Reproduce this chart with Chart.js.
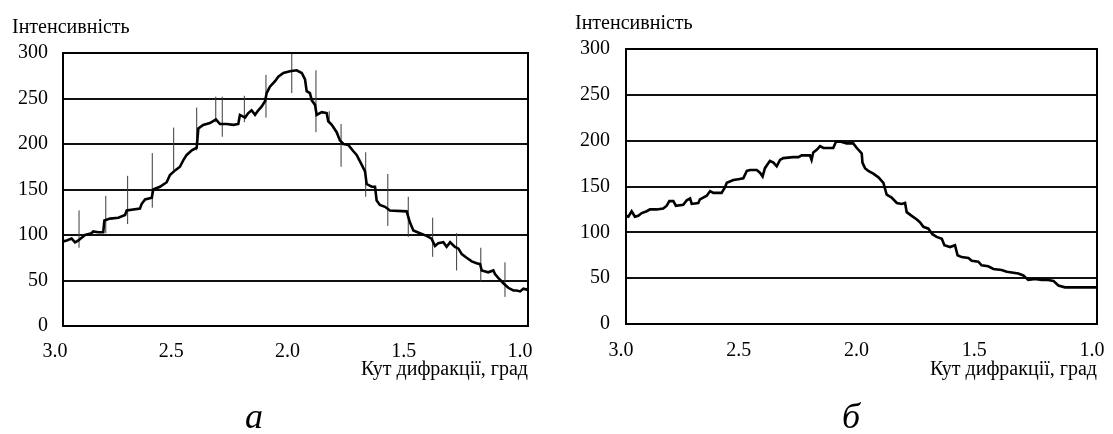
<!DOCTYPE html>
<html>
<head>
<meta charset="utf-8">
<script src="https://cdn.jsdelivr.net/npm/chart.js@4.4.1/dist/chart.umd.min.js"></script>
<style>
  html, body { margin: 0; padding: 0; background: #fff; }
  #wrap { position: relative; width: 1113px; height: 434px; overflow: hidden; background: #fff; }
  .panel { position: absolute; top: 0; height: 434px; }
  .cap { position: absolute; font-family: 'Liberation Serif', serif; font-style: italic; font-size: 36px; line-height: 36px; color: #000; transform: translateX(-50%); }
</style>
</head>
<body>
<div id="wrap">
  <div class="panel" style="left:0;width:556px;"><canvas id="chartA" width="556" height="434"></canvas></div>
  <div class="panel" style="left:556px;width:557px;"><canvas id="chartB" width="557" height="434"></canvas></div>
  <div class="cap" id="capA" style="left:254px;top:398px;">а</div>
  <div class="cap" id="capB" style="left:851px;top:398px;">б</div>
</div>
<script>
// ---------- data ----------
const yTitle = 'Інтенсивність';
const xTitle = 'Кут дифракції, град';
const xTickValues = [3.0, 2.5, 2.0, 1.5, 1.0];
const yTickValues = [0, 50, 100, 150, 200, 250, 300];

// panel а
const anglesA = [3.000,2.984,2.963,2.948,2.934,2.905,2.877,2.870,2.848,2.827,2.822,2.798,2.762,2.733,2.726,2.669,2.662,2.647,2.618,2.612,2.583,2.554,2.540,2.518,2.497,2.483,2.468,2.446,2.425,2.418,2.397,2.368,2.342,2.325,2.296,2.267,2.246,2.239,2.217,2.203,2.189,2.174,2.160,2.146,2.131,2.124,2.110,2.088,2.074,2.052,2.024,1.995,1.973,1.959,1.952,1.938,1.930,1.916,1.909,1.887,1.866,1.859,1.844,1.823,1.809,1.794,1.773,1.751,1.737,1.715,1.701,1.694,1.672,1.658,1.651,1.637,1.615,1.594,1.522,1.508,1.493,1.465,1.436,1.415,1.400,1.386,1.364,1.350,1.335,1.314,1.299,1.285,1.264,1.242,1.221,1.206,1.199,1.171,1.149,1.142,1.128,1.106,1.085,1.063,1.049,1.034,1.020,1.006,1.000];
const intensityA = [93,94,96,92,94,100,102,104,103,103,116,118,119,122,127,129,134,139,141,150,153,158,166,171,175,182,188,193,196,217,221,223,227,222,222,221,222,232,229,234,237,232,237,241,247,256,263,269,274,278,280,281,278,271,258,256,248,243,232,235,234,225,221,213,204,200,199,192,188,177,170,156,153,153,138,133,131,127,126,114,105,102,99,96,88,91,92,87,92,87,85,79,75,71,69,68,61,59,61,57,53,47,42,39,39,38,41,40,41];
const spikeAnglesA = [2.931,2.816,2.722,2.616,2.524,2.425,2.343,2.315,2.220,2.127,2.016,1.912,1.855,1.804,1.698,1.603,1.515,1.410,1.307,1.203,1.099];
const spikeLowA  = [86,102,112,130,171,193,224,208,224,229,256,213,223,175,142,110,98,76,61,49,32];
const spikeHighA = [127,143,165,190,218,240,252,252,253,276,299,281,236,222,191,167,142,119,102,86,70];

// panel б
const anglesB = [3.000,2.990,2.976,2.962,2.948,2.933,2.912,2.898,2.870,2.842,2.827,2.816,2.799,2.788,2.757,2.742,2.728,2.721,2.693,2.686,2.657,2.643,2.629,2.594,2.580,2.572,2.544,2.523,2.502,2.487,2.473,2.445,2.431,2.420,2.410,2.389,2.374,2.360,2.346,2.332,2.290,2.268,2.254,2.219,2.212,2.205,2.190,2.176,2.162,2.120,2.108,2.091,2.063,2.035,2.020,2.006,1.999,1.996,1.985,1.971,1.950,1.928,1.907,1.893,1.872,1.850,1.829,1.815,1.808,1.787,1.765,1.752,1.737,1.716,1.699,1.681,1.659,1.648,1.624,1.603,1.592,1.575,1.546,1.532,1.504,1.490,1.462,1.440,1.405,1.383,1.355,1.334,1.313,1.292,1.263,1.235,1.207,1.185,1.164,1.136,1.093,1.036,1.000];
const intensityB = [118,117,123,117,118,121,123,125,125,126,129,134,134,129,130,135,137,131,132,136,140,145,143,143,149,154,157,158,159,167,168,168,165,161,170,178,176,172,179,181,182,182,184,184,179,187,190,194,192,192,199,199,197,197,192,188,186,176,170,167,164,160,154,141,138,132,131,132,122,118,114,111,106,104,98,95,93,86,84,86,75,73,72,69,68,64,63,60,59,57,56,55,53,48,49,48,48,47,42,40,40,40,40];

// ---------- helpers ----------
Chart.defaults.font.family = "'Liberation Serif', 'Times New Roman', serif";
Chart.defaults.color = '#000';

const framePlugin = {
  id: 'frame',
  afterDatasetsDraw(chart) {
    const a = chart.chartArea;
    const ctx = chart.ctx;
    ctx.save();
    ctx.strokeStyle = '#000';
    ctx.lineWidth = 2;
    ctx.strokeRect(a.left, a.top, a.right - a.left, a.bottom - a.top);
    ctx.restore();
  }
};

function pts(xs, ys) { return xs.map((x, i) => ({ x: x, y: ys[i] })); }
function spikePts(xs, lo, hi) {
  const out = [];
  xs.forEach((x, i) => { out.push({ x: x, y: lo[i] }, { x: x, y: hi[i] }, { x: x, y: null }); });
  return out;
}

function makeChart(id, cfg) {
  const datasets = [{
    data: pts(cfg.angles, cfg.values),
    borderColor: '#000', borderWidth: 2.6, pointRadius: 0, tension: 0, fill: false
  }];
  if (cfg.spikes) {
    datasets.push({
      data: spikePts(cfg.spikes.x, cfg.spikes.lo, cfg.spikes.hi),
      borderColor: '#3a3a3a', borderWidth: 1, pointRadius: 0, spanGaps: false, fill: false
    });
  }
  return new Chart(document.getElementById(id), {
    type: 'line',
    data: { datasets: datasets },
    options: {
      responsive: false,
      animation: false,
      events: [],
      layout: { padding: { left: cfg.padL, right: cfg.padR, top: 0, bottom: 0 } },
      plugins: {
        legend: { display: false },
        tooltip: { enabled: false },
        title: {
          display: true, text: yTitle, align: 'start', color: '#000',
          font: { size: 20, weight: 'normal' },
          padding: { top: cfg.titleTop, bottom: cfg.titleBottom }
        },
        subtitle: {
          display: true, text: xTitle, position: 'bottom', align: 'end', color: '#000',
          font: { size: 20, weight: 'normal' },
          padding: { top: 0, bottom: 52 }
        }
      },
      scales: {
        x: {
          type: 'linear', min: 1.0, max: 3.0, reverse: true,
          afterBuildTicks: s => { s.ticks = xTickValues.map(v => ({ value: v })); },
          afterFit: s => { s.height = cfg.xHeight; s.paddingLeft = 0; s.paddingRight = 0; },
          grid: { display: false, drawTicks: false },
          border: { display: false },
          ticks: {
            font: { size: 20 }, color: '#000', padding: cfg.xTickPad, labelOffset: cfg.labelOffset,
            maxRotation: 0, autoSkip: false,
            callback: v => Number(v).toFixed(1)
          }
        },
        y: {
          min: 0, max: 300,
          afterBuildTicks: s => { s.ticks = yTickValues.map(v => ({ value: v })); },
          afterFit: s => { s.width = cfg.yWidth; },
          grid: { color: '#111', lineWidth: 2, drawTicks: false },
          border: { display: false },
          ticks: { font: { size: 20 }, color: '#000', padding: cfg.yTickPad }
        }
      }
    },
    plugins: [framePlugin]
  });
}

makeChart('chartA', {
  angles: anglesA, values: intensityA,
  spikes: { x: spikeAnglesA, lo: spikeLowA, hi: spikeHighA },
  padL: 12, padR: 28, titleTop: 16, titleBottom: 13,
  xHeight: 32, xTickPad: 14, labelOffset: -8,
  yWidth: 51, yTickPad: 15
});
makeChart('chartB', {
  angles: anglesB, values: intensityB,
  padL: 19, padR: 16, titleTop: 12, titleBottom: 13,
  xHeight: 34, xTickPad: 15, labelOffset: -5,
  yWidth: 51, yTickPad: 16
});
</script>
</body>
</html>
